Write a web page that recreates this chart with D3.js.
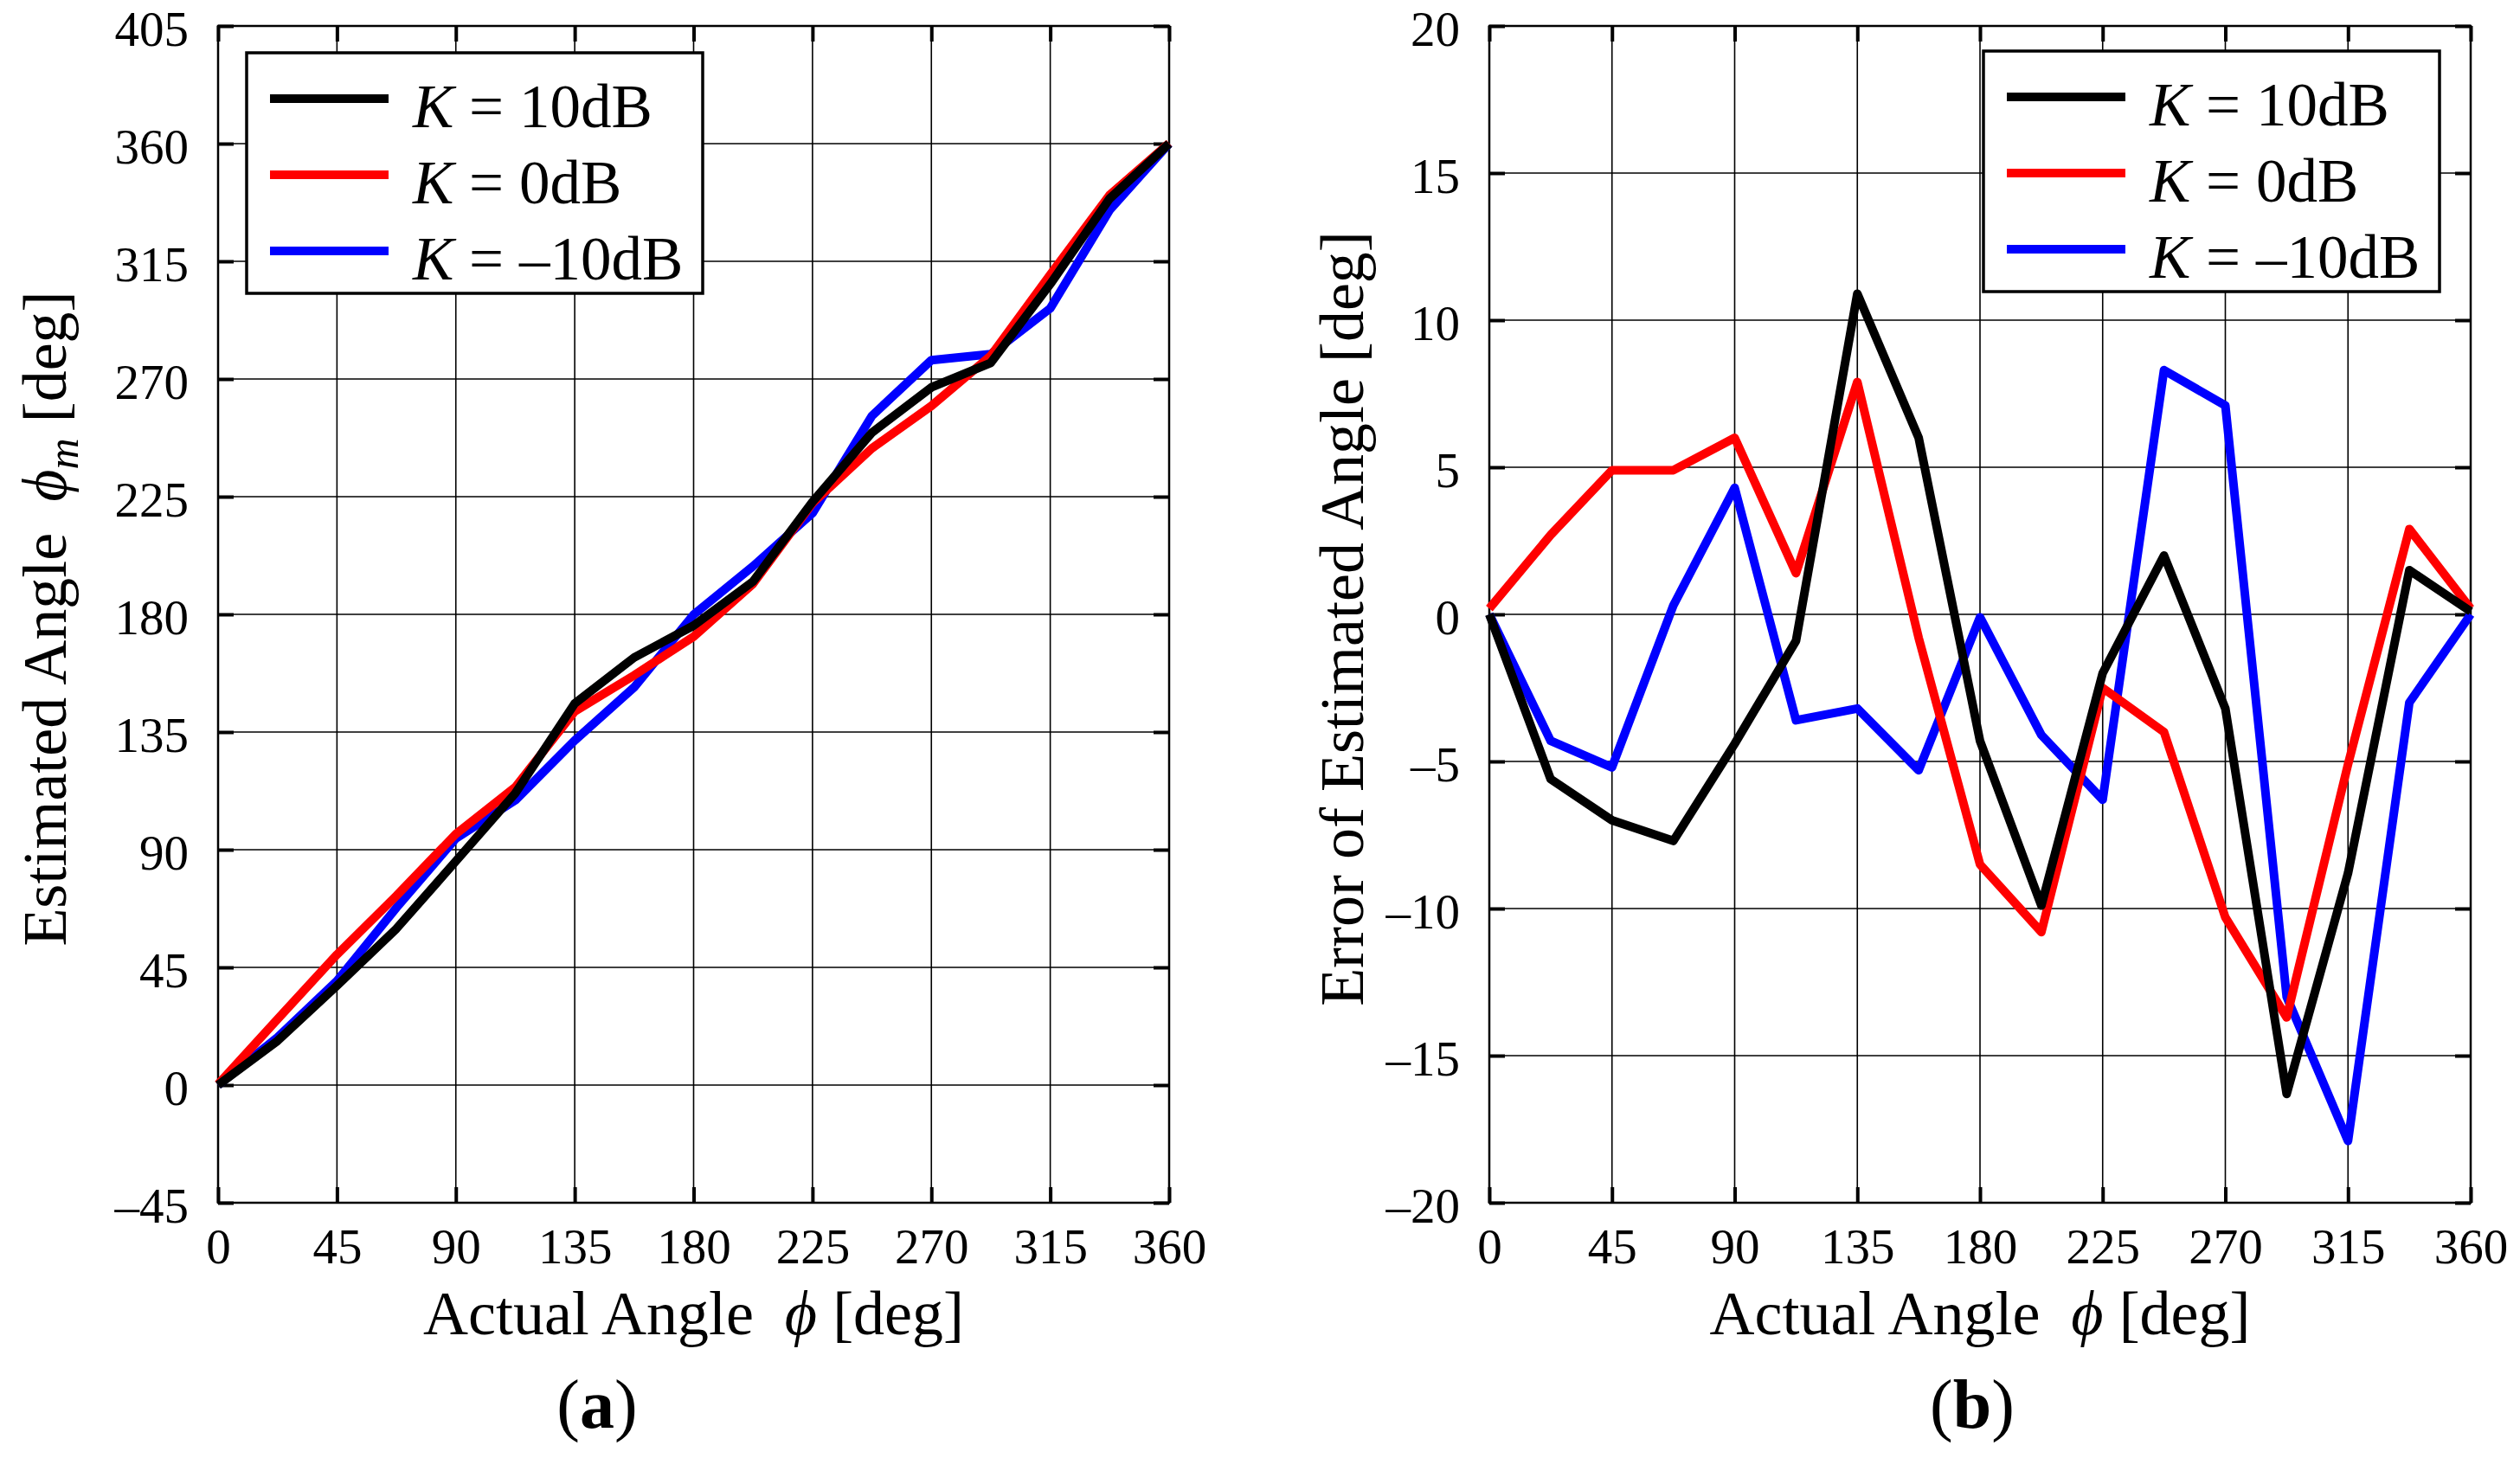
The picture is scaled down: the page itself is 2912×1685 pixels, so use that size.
<!DOCTYPE html>
<html>
<head>
<meta charset="utf-8">
<script src="https://cdn.jsdelivr.net/npm/d3@7"></script>
<style>
  body { margin: 0; background: #fff; }
  svg { display: block; font-family: "Liberation Serif", "Times New Roman", serif; }
</style>
</head>
<body>
<svg id="fig" width="2912" height="1685"></svg>
<script>
// actual angle phi, sampled every 22.5 deg
const angles = [0, 22.5, 45, 67.5, 90, 112.5, 135, 157.5, 180, 202.5, 225, 247.5, 270, 292.5, 315, 337.5, 360];

// (a) estimated angle phi_m [deg]
const estK10  = [0, 16.9, 38.0, 59.8, 85.6, 111.6, 145.9, 163.5, 175.7, 192.6, 223.0, 249.5, 266.8, 276.2, 306.3, 339.0, 360];
const estK0   = [0.3, 25.2, 49.9, 72.4, 96.0, 113.9, 142.9, 156.7, 171.5, 191.7, 222.5, 243.5, 259.7, 278.9, 309.9, 340.4, 360.2];
const estKm10 = [0, 18.2, 39.8, 67.8, 94.3, 108.9, 131.8, 152.1, 179.9, 198.4, 218.7, 255.9, 277.2, 279.5, 297.0, 334.6, 360];

// (b) error of estimated angle [deg]
const errK10  = [0, -5.6, -7.0, -7.7, -4.4, -0.9, 10.9, 6.0, -4.3, -9.9, -2.0, 2.0, -3.2, -16.3, -8.8, 1.5, 0.1];
const errK0   = [0.2, 2.7, 4.9, 4.9, 6.0, 1.4, 7.9, -0.8, -8.5, -10.8, -2.5, -4.0, -10.3, -13.7, -5.1, 2.9, 0.2];
const errKm10 = [0, -4.3, -5.2, 0.3, 4.3, -3.6, -3.2, -5.3, -0.1, -4.1, -6.3, 8.3, 7.1, -13.0, -17.9, -3.0, 0];

const legendLabels = ["10dB", "0dB", "\u201310dB"];
const lineColors = ["#000000", "#ff0000", "#0000ff"];

const xTicks = [0, 45, 90, 135, 180, 225, 270, 315, 360];
const yTicksA = [-45, 0, 45, 90, 135, 180, 225, 270, 315, 360, 405];
const yTicksB = [-20, -15, -10, -5, 0, 5, 10, 15, 20];

const svg = d3.select('#fig');
const plotTop = 30, plotBottom = 1390;

// tick labels use an en dash for the minus sign
const fmt = d => (d < 0 ? "\u2013" + Math.abs(d) : String(d));

function drawPanel(p) {
    const x = d3.scaleLinear().domain([0, 360]).range([p.left, p.right]);
    const y = d3.scaleLinear().domain(p.yDomain).range([plotBottom, plotTop]);
    const g = svg.append('g');

    // grid
    g.selectAll('.vgrid').data(xTicks).enter().append('line')
        .attr('x1', d => x(d)).attr('x2', d => x(d))
        .attr('y1', plotTop).attr('y2', plotBottom)
        .attr('stroke', '#000').attr('stroke-width', 1.6);
    g.selectAll('.hgrid').data(p.yTicks).enter().append('line')
        .attr('x1', p.left).attr('x2', p.right)
        .attr('y1', d => y(d)).attr('y2', d => y(d))
        .attr('stroke', '#000').attr('stroke-width', 1.6);

    // axes, ticks pointing inward on every side
    const tl = 18;
    const axB = g.append('g').attr('transform', `translate(0,${plotBottom})`)
        .call(d3.axisBottom(x).tickValues(xTicks).tickSizeInner(-tl).tickSizeOuter(0).tickPadding(30).tickFormat(fmt));
    const axT = g.append('g').attr('transform', `translate(0,${plotTop})`)
        .call(d3.axisTop(x).tickValues(xTicks).tickSizeInner(-tl).tickSizeOuter(0).tickFormat(''));
    const axL = g.append('g').attr('transform', `translate(${p.left},0)`)
        .call(d3.axisLeft(y).tickValues(p.yTicks).tickSizeInner(-tl).tickSizeOuter(0).tickPadding(34).tickFormat(fmt));
    const axR = g.append('g').attr('transform', `translate(${p.right},0)`)
        .call(d3.axisRight(y).tickValues(p.yTicks).tickSizeInner(-tl).tickSizeOuter(0).tickFormat(''));
    [axB, axT, axL, axR].forEach(a => {
        a.select('.domain').remove();
        a.selectAll('.tick line').attr('stroke', '#000').attr('stroke-width', 4);
        a.selectAll('text').attr('font-family', 'Liberation Serif').attr('font-size', 57).attr('fill', '#000');
    });
    axB.selectAll('text').attr('dy', '0.71em');
    axL.selectAll('text').attr('dy', '0.4em');

    g.append('rect')
        .attr('x', p.left).attr('y', plotTop)
        .attr('width', p.right - p.left).attr('height', plotBottom - plotTop)
        .attr('fill', 'none').attr('stroke', '#000').attr('stroke-width', 2.5);

    // data lines, blue first so black ends on top
    const line = d3.line().x((d, i) => x(angles[i])).y(d => y(d));
    [2, 1, 0].forEach(k => {
        g.append('path')
            .datum(p.series[k])
            .attr('fill', 'none')
            .attr('stroke', lineColors[k])
            .attr('stroke-width', 10)
            .attr('stroke-linejoin', 'round')
            .attr('d', line);
    });

    // legend
    const lg = g.append('g').attr('transform', `translate(${p.legendX},${p.legendY})`);
    lg.append('rect').attr('width', 527).attr('height', 278)
        .attr('fill', '#fff').attr('stroke', '#000').attr('stroke-width', 3.5);
    const rows = lg.selectAll('.row').data(legendLabels).enter().append('g')
        .attr('transform', (d, i) => `translate(0,${53 + i * 88})`);
    rows.append('line').attr('x1', 27).attr('x2', 164)
        .attr('stroke', (d, i) => lineColors[i]).attr('stroke-width', 10);
    const t = rows.append('text').attr('x', 192).attr('y', 33).attr('font-size', 71);
    t.append('tspan').attr('font-style', 'italic').text('K');
    t.append('tspan').text(d => ' = ' + d);

    // axis titles
    const xl = g.append('text').attr('x', (p.left + p.right) / 2).attr('y', 1542)
        .attr('text-anchor', 'middle').attr('font-size', 72);
    xl.append('tspan').text('Actual Angle\u00a0\u00a0');
    xl.append('tspan').attr('font-style', 'italic').text('\u03d5');
    xl.append('tspan').text(' [deg]');

    const yl = g.append('text')
        .attr('transform', `translate(${p.yLabelX},715) rotate(-90)`)
        .attr('text-anchor', 'middle').attr('font-size', 72);
    p.yLabel(yl);

    // caption
    const cap = g.append('text').attr('x', p.capX).attr('y', 1650)
        .attr('text-anchor', 'middle').attr('font-size', 80);
    cap.append('tspan').text('(');
    cap.append('tspan').attr('font-weight', 'bold').text(p.key);
    cap.append('tspan').text(')');
}

drawPanel({
    key: 'a', left: 252, right: 1351, yDomain: [-45, 405], yTicks: yTicksA,
    series: [estK10, estK0, estKm10],
    legendX: 285, legendY: 61, yLabelX: 76, capX: 690,
    yLabel: s => {
        s.append('tspan').text('Estimated Angle\u00a0\u00a0');
        s.append('tspan').attr('font-style', 'italic').text('\u03d5');
        s.append('tspan').attr('font-style', 'italic').attr('font-size', 50).attr('dy', 14).text('m');
        s.append('tspan').attr('dy', -14).text(' [deg]');
    }
});

drawPanel({
    key: 'b', left: 1721, right: 2855, yDomain: [-20, 20], yTicks: yTicksB,
    series: [errK10, errK0, errKm10],
    legendX: 2292, legendY: 59, yLabelX: 1575, capX: 2279,
    yLabel: s => s.text('Error of Estimated Angle [deg]')
});
</script>
</body>
</html>
